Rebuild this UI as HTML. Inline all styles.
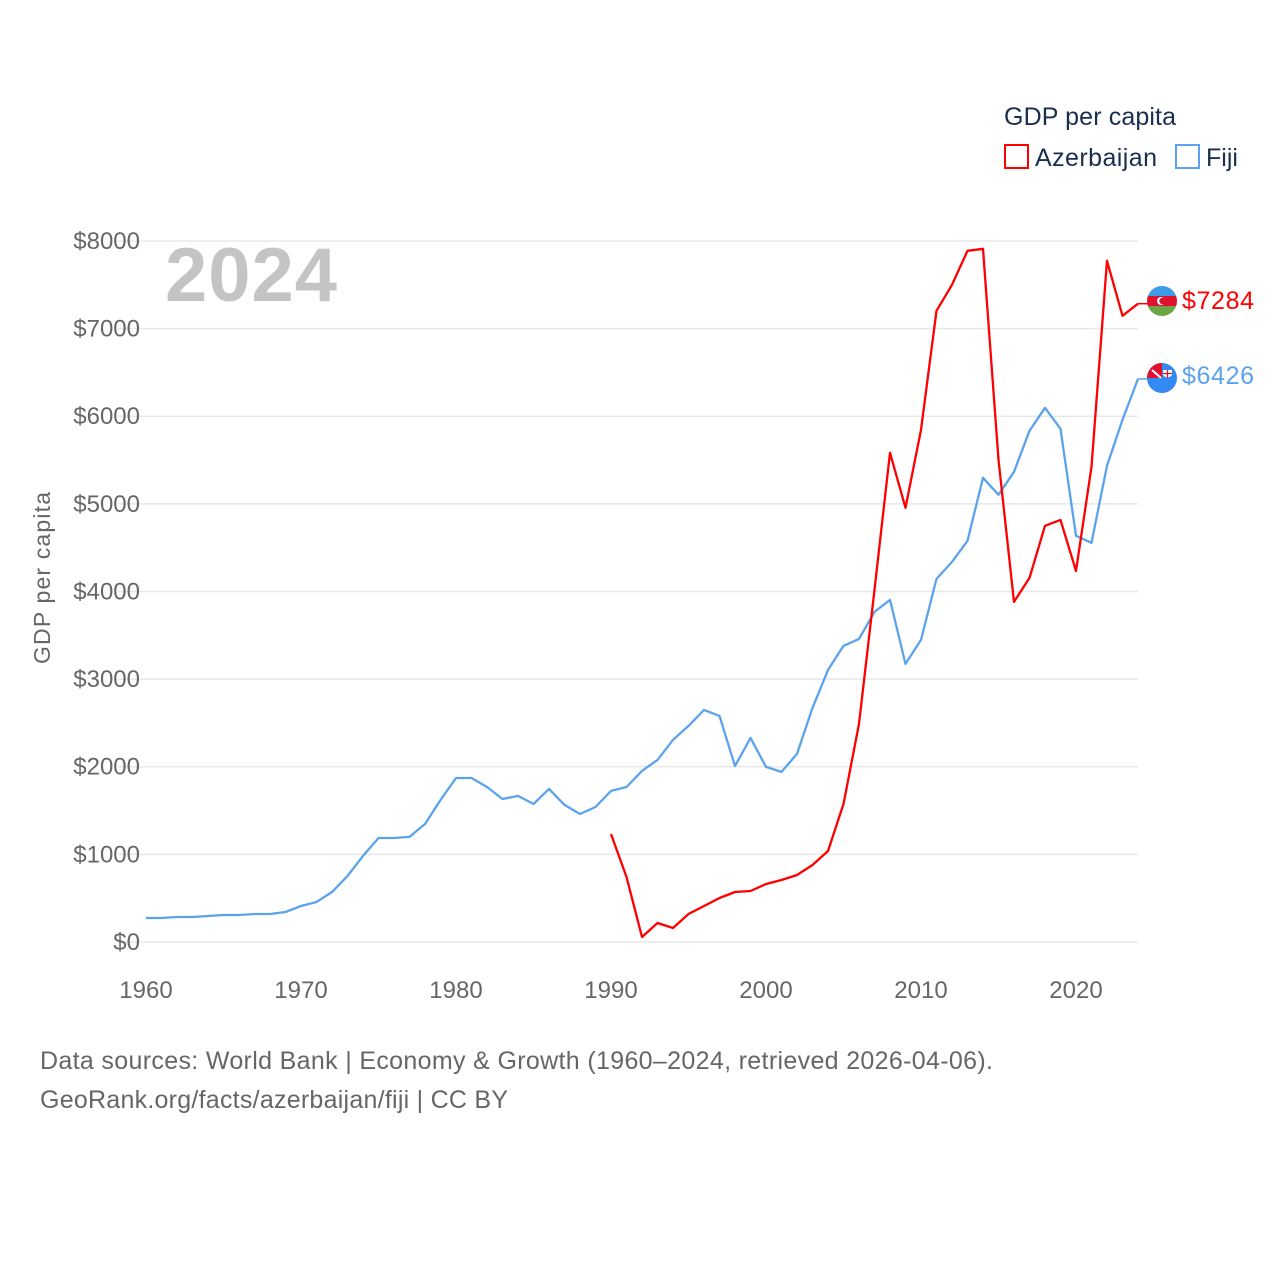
<!DOCTYPE html>
<html><head><meta charset="utf-8">
<style>
body{margin:0;background:#fff;}
svg{display:block;font-family:"Liberation Sans",sans-serif;}
</style></head>
<body>
<svg id="chart" width="1280" height="1280" viewBox="0 0 1280 1280">
  <text x="1004" y="125" font-size="25" fill="#1a2e4f" textLength="172">GDP per capita</text>
  <g>
    <rect x="1005" y="145" width="23" height="23" fill="none" stroke="#ff0000" stroke-width="2"></rect>
    <text x="1035" y="166" font-size="25" fill="#1a2e4f" textLength="122">Azerbaijan</text>
  </g>
  <g>
    <rect x="1176" y="145" width="23" height="23" fill="none" stroke="#5ba3ec" stroke-width="2"></rect>
    <text x="1206" y="166" font-size="25" fill="#1a2e4f">Fiji</text>
  </g>
  <g id="grid"></g>
  <text x="165" y="301" font-size="76" font-weight="bold" fill="#c4c4c4" textLength="172">2024</text>
  <g id="yticks"></g>
  <g id="xticks"></g>
  <text transform="translate(50,578) rotate(-90)" text-anchor="middle" font-size="23" fill="#666" textLength="172">GDP per capita</text>
  <g id="series"></g>
  <g>
    <clipPath id="ca"><circle cx="1162" cy="301" r="15"></circle></clipPath>
    <g clip-path="url(#ca)">
      <rect x="1147" y="286" width="30" height="10" fill="#3f9be5"></rect>
      <rect x="1147" y="296" width="30" height="10" fill="#e0102f"></rect>
      <rect x="1147" y="306" width="30" height="10" fill="#6da544"></rect>
      <circle cx="1161" cy="301" r="4" fill="#fff"></circle>
      <circle cx="1162.5" cy="301" r="3.2" fill="#e0102f"></circle>
    </g>
  </g>
  <g>
    <clipPath id="cf"><circle cx="1162" cy="378" r="15"></circle></clipPath>
    <g clip-path="url(#cf)">
      <rect x="1147" y="363" width="30" height="30" fill="#338af3"></rect>
      <rect x="1147" y="363" width="15" height="15" fill="#e0102f"></rect>
      <path d="M1152 370 L1161 378" stroke="#fff" stroke-width="2"></path>
      <path d="M1163 370 h9 v5 q-4.5 5 -9 0z" fill="#fff"></path>
      <path d="M1167.5 370 v8 M1163 373.5 h9" stroke="#e0102f" stroke-width="1.2"></path>
    </g>
  </g>
  <text x="1182" y="309" font-size="25" fill="#ff0000" textLength="72">$7284</text>
  <text x="1182" y="384" font-size="25" fill="#5ba3ec" textLength="72">$6426</text>
  <text x="40" y="1069" font-size="25" fill="#666" textLength="953">Data sources: World Bank | Economy &amp; Growth (1960–2024, retrieved 2026-04-06).</text>
  <text x="40" y="1108" font-size="25" fill="#666" textLength="468">GeoRank.org/facts/azerbaijan/fiji | CC BY</text>
</svg>
<script>
const fijiYears = [1960,1961,1962,1963,1964,1965,1966,1967,1968,1969,1970,1971,1972,1973,1974,1975,1976,1977,1978,1979,1980,1981,1982,1983,1984,1985,1986,1987,1988,1989,1990,1991,1992,1993,1994,1995,1996,1997,1998,1999,2000,2001,2002,2003,2004,2005,2006,2007,2008,2009,2010,2011,2012,2013,2014,2015,2016,2017,2018,2019,2020,2021,2022,2023,2024];
const fijiValues = [274,274,285,285,297,308,308,320,320,342,411,457,571,753,982,1187,1187,1199,1347,1621,1872,1872,1769,1632,1667,1575,1747,1564,1461,1541,1724,1769,1952,2078,2306,2466,2649,2580,2009,2329,1998,1941,2146,2671,3105,3379,3459,3767,3904,3174,3448,4144,4338,4578,5297,5103,5366,5834,6096,5856,4635,4555,5434,5959,6426];
const azeYears = [1990,1991,1992,1993,1994,1995,1996,1997,1998,1999,2000,2001,2002,2003,2004,2005,2006,2007,2008,2009,2010,2011,2012,2013,2014,2015,2016,2017,2018,2019,2020,2021,2022,2023,2024];
const azeValues = [1233,742,57,217,160,320,411,502,571,582,662,708,765,879,1039,1575,2489,4018,5582,4955,5845,7203,7500,7888,7911,5503,3881,4155,4749,4817,4235,5423,7774,7146,7284];
const yTicks = [0,1000,2000,3000,4000,5000,6000,7000,8000];
const xTicks = [1960,1970,1980,1990,2000,2010,2020];

const NS = "http://www.w3.org/2000/svg";
const x = yr => 146 + (yr - 1960) * 15.5;
const y = v => 942 - v * 0.08763;
function mk(tag, attrs, parent){const e=document.createElementNS(NS,tag);for(const k in attrs)e.setAttribute(k,attrs[k]);parent.appendChild(e);return e;}

const grid=document.getElementById('grid'), yt=document.getElementById('yticks'), xt=document.getElementById('xticks'), ser=document.getElementById('series');
yTicks.forEach(v=>{
  const l=mk('line',{x1:118,x2:1138,y1:y(v),y2:y(v),stroke:'#e8e8e8','stroke-width':1.5},grid);
  
  
  const t=mk('text',{x:140,y:y(v)+8,'text-anchor':'end','font-size':24,fill:'#666'},yt);
  t.textContent='$'+v;
  
  
});
xTicks.forEach(yr=>{
  const t=mk('text',{x:x(yr),y:998,'text-anchor':'middle','font-size':24,fill:'#666'},xt);
  t.textContent=yr;
  
  
});
function line(years, vals, color, name){
  const pts=years.map((yr,i)=>x(yr).toFixed(1)+','+y(vals[i]).toFixed(1));
  const p=mk('polyline',{points:pts.join(' '),fill:'none',stroke:color,'stroke-width':2.3,'stroke-linejoin':'round'},ser);
  
  
  const last=vals[vals.length-1];
  const c=mk('line',{x1:x(years[years.length-1]),x2:1148,y1:y(last),y2:y(last),stroke:color,'stroke-width':1.5},ser);
  
  
}
line(fijiYears,fijiValues,'#5ba3ec','line-fiji');
line(azeYears,azeValues,'#ff0000','line-azerbaijan');
</script>
</body></html>
